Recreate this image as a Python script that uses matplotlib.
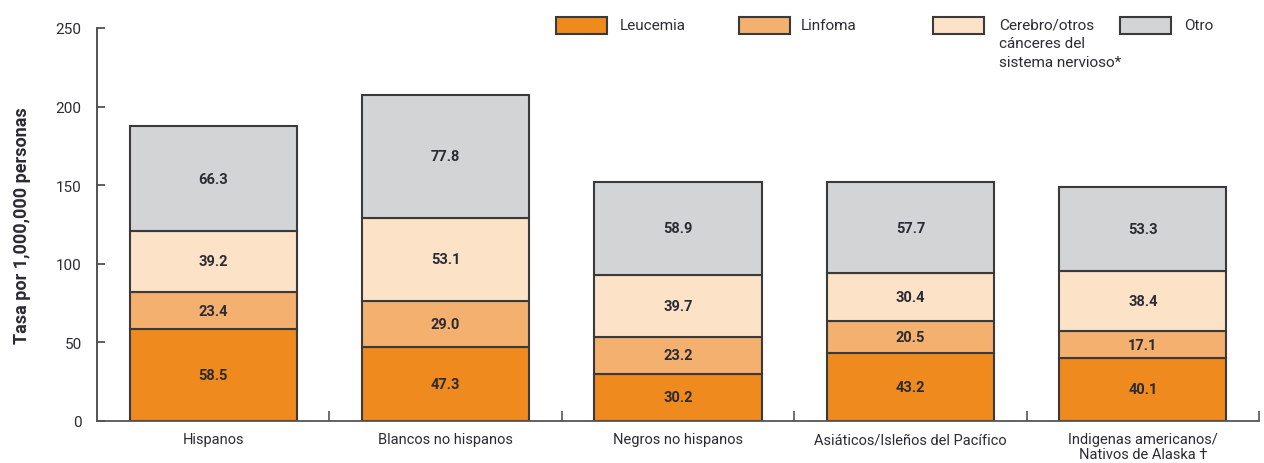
import matplotlib
matplotlib.use("Agg")
import matplotlib.pyplot as plt
import numpy as np
from matplotlib.patches import Rectangle

# ── Datos ────────────────────────────────────────────────────────────────────

grupos = [
    "Hispanos",
    "Blancos no hispanos",
    "Negros no hispanos",
    "Asiáticos/Isleños del Pacífico",
    "Indigenas americanos/\nNativos de Alaska \u2020",
]
leucemia = [58.5, 47.3, 30.2, 43.2, 40.1]
linfoma  = [23.4, 29.0, 23.2, 20.5, 17.1]
cerebro  = [39.2, 53.1, 39.7, 30.4, 38.4]
otro     = [66.3, 77.8, 58.9, 57.7, 53.3]

series = [leucemia, linfoma, cerebro, otro]
nombres = ["Leucemia", "Linfoma",
           "Cerebro/otros\ncánceres del\nsistema nervioso*", "Otro"]
colores = ["#EE8A1E", "#F4B06F", "#FCE3C8", "#D3D4D6"]

BORDE = "#3a3a3a"
TEXTO = "#2b2b33"

plt.rcParams["font.family"] = ["Roboto", "DejaVu Sans"]

fig = plt.figure(figsize=(12.64, 4.64), dpi=100)
ax = fig.add_axes([97 / 1264, 1 - 422 / 464, (1259 - 97) / 1264, (422 - 29) / 464])

x = np.arange(len(grupos))
base = np.zeros(len(grupos))
for vals, col in zip(series, colores):
    vals = np.array(vals)
    ax.bar(x, vals, 0.72, bottom=base, color=col, edgecolor=BORDE,
           linewidth=1.5, zorder=2)
    for xi, b, v in zip(x, base, vals):
        ax.text(xi, b + v / 2, f"{v:.1f}", ha="center", va="center",
                fontsize=10.5, fontweight="bold", color=TEXTO, zorder=3)
    base += vals

ax.set_xlim(-0.5, 4.5)
ax.set_ylim(0, 250)

for s in ["top", "right"]:
    ax.spines[s].set_visible(False)
ax.spines["left"].set_color("#444444")
ax.spines["bottom"].set_color("#555555")
ax.spines["left"].set_linewidth(1.3)
ax.spines["bottom"].set_linewidth(1.3)

ax.set_yticks([0, 50, 100, 150, 200, 250])
ax.tick_params(axis="y", direction="in", length=6, width=1.2, color="#444444",
               labelsize=11, labelcolor=TEXTO, pad=11)

ax.set_xticks(x)
ax.set_xticklabels(grupos, fontsize=10.5, color=TEXTO, linespacing=1.05)
ax.tick_params(axis="x", length=0, pad=8)
ax.set_xticks(np.arange(0.5, 5, 1), minor=True)
ax.tick_params(axis="x", which="minor", direction="in", length=7, width=1.2,
               color="#555555")

ax.set_ylabel("Tasa por 1,000,000 personas", fontsize=13,
              fontweight="bold", color=TEXTO, labelpad=18)

# ── Leyenda manual ───────────────────────────────────────────────────────────

parche_x = [556, 739, 933, 1120]
texto_x  = [620, 801, 999, 1184]
for px, tx, col, nom in zip(parche_x, texto_x, colores, nombres):
    fig.patches.append(Rectangle((px / 1264, 1 - 35 / 464), 51 / 1264, 17 / 464,
                                 transform=fig.transFigure, facecolor=col,
                                 edgecolor=BORDE, linewidth=1.5))
    fig.text(tx / 1264, 1 - 19 / 464, nom, ha="left", va="top",
             fontsize=11, color=TEXTO, linespacing=1.4)

fig.savefig("out.png", dpi=100, facecolor="white")
